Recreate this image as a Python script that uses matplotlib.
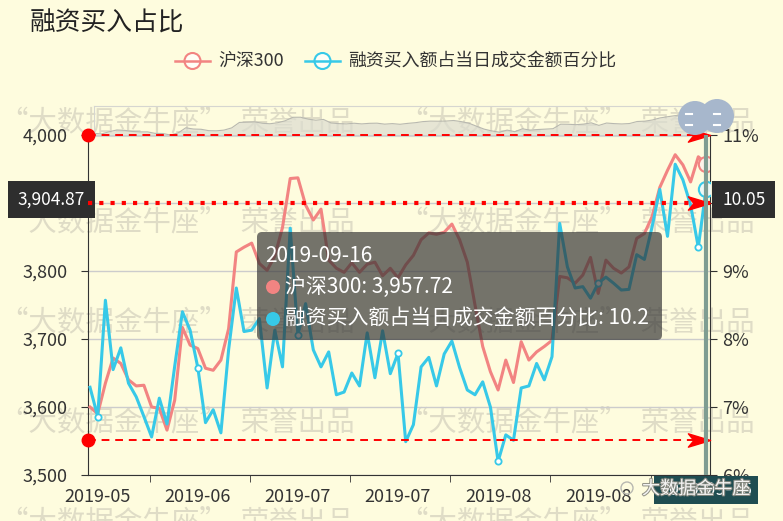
import numpy as np
import pandas as pd
import matplotlib
matplotlib.use('Agg')
import matplotlib.pyplot as plt
from matplotlib.patches import FancyBboxPatch, Circle
from matplotlib.path import Path
from matplotlib.ticker import FuncFormatter, FixedLocator
import matplotlib.patheffects as pe

plt.rcParams['font.family'] = ['Noto Sans CJK SC', 'DejaVu Sans']

# ---- data ----
dates = pd.bdate_range('2019-05-23', '2019-09-16', freq='C',
                       holidays=['2019-06-07', '2019-09-13'])

hs300 = [3600, 3590, 3635, 3672, 3664, 3640, 3631, 3632, 3600, 3598,
         3566, 3610, 3717, 3691, 3686, 3657, 3654, 3669, 3715, 3828,
         3835, 3841, 3811, 3801, 3822, 3864, 3936, 3937, 3897, 3875,
         3891, 3816, 3804, 3798, 3812, 3798, 3810, 3813, 3793, 3804,
         3790, 3809, 3823, 3846, 3856, 3854, 3857, 3869, 3846, 3813,
         3750, 3689, 3652, 3625, 3669, 3636, 3696, 3669, 3681, 3689,
         3698, 3792, 3790, 3782, 3794, 3820, 3767, 3816, 3804, 3797,
         3806, 3848, 3855, 3880, 3923, 3948, 3971, 3956, 3931, 3968,
         3957.72]

ratio = [7.29, 6.86, 8.57, 7.55, 7.87, 7.35, 7.15, 6.86, 6.56, 7.13,
         6.75, 7.60, 8.40, 8.13, 7.58, 6.77, 6.96, 6.62, 7.84, 8.75,
         8.11, 8.13, 8.30, 7.28, 8.13, 7.59, 9.63, 8.06, 8.52, 7.84,
         7.59, 7.81, 7.18, 7.22, 7.50, 7.31, 8.09, 7.43, 8.12, 7.49,
         7.79, 6.49, 6.74, 7.59, 7.73, 7.31, 7.78, 7.97, 7.58, 7.25,
         7.18, 7.37, 7.00, 6.20, 6.59, 6.51, 7.28, 7.31, 7.64, 7.40,
         7.74, 9.70, 9.06, 8.75, 8.77, 8.60, 8.82, 8.91, 8.82, 8.72,
         8.73, 9.24, 9.17, 9.65, 10.20, 9.51, 10.57, 10.34, 9.97, 9.35,
         10.2]

label_idx = [1, 14, 27, 40, 53, 66, 79]
mark_values = [4000, 3900, 3551.5]
pointer_left = 3904.87
pointer_right = 10.05

name1 = '沪深300'
name2 = '融资买入额占当日成交金额百分比'

# ---- style ----
W, H = 783, 521
BG = '#fefcde'
PINK = '#f28482'
CYAN = '#37c9e8'
WM = '#dfdcc6'

fig = plt.figure(figsize=(W / 100, H / 100), dpi=100)
fig.patch.set_facecolor(BG)

# watermark layer (pixel coords)
bg = fig.add_axes([0, 0, 1, 1], zorder=-2)
bg.set_xlim(0, W)
bg.set_ylim(H, 0)
bg.axis('off')
for yy in [122, 222, 322, 422, 522]:
    for xx in [0, 400]:
        bg.text(xx, yy, '“大数据金牛座”  荣誉出品', fontsize=20.5, color=WM,
                va='center', ha='left')

n = len(hs300)
x = np.arange(n)

# data zoom slider at top
sl = fig.add_axes([94 / W, 1 - 136 / H, 612 / W, 30 / H], zorder=-1)
sl.set_xlim(0, n - 1)
sl.set_ylim(min(hs300) - 20, max(hs300) + 200)
sl.fill_between(x, min(hs300) - 20, hs300, color='#dcdcd0', alpha=0.7, lw=0)
sl.plot(x, hs300, color='#b8b8b0', lw=0.8)
sl.patch.set_alpha(0)
sl.set_xticks([])
sl.set_yticks([])
for s in sl.spines.values():
    s.set_color('#d6d6d0')

# main axes
ax = fig.add_axes([88 / W, 1 - 475 / H, 622 / W, 340 / H])
ax.patch.set_alpha(0)
step = 7.7
ax.set_xlim(-2 / step, (n - 1) + 4 / step)
ax.set_ylim(3500, 4000)
ax.set_yticks(np.arange(3500, 4001, 100))
ax.yaxis.set_major_formatter(FuncFormatter(lambda v, p: f'{v:,.0f}'))
ax.grid(axis='y', color='#cccccc', lw=1)
ax.set_axisbelow(True)

ax.set_xticks(label_idx)
ax.set_xticklabels([dates[i].strftime('%Y-%m') for i in label_idx])
ax.xaxis.set_minor_locator(FixedLocator([i + 6.8 for i in label_idx[:-1]]))
ax.tick_params(axis='x', which='major', length=0, pad=9, labelsize=13, labelcolor='#333')
ax.tick_params(axis='x', which='minor', length=5, color='#333', direction='out')
ax.tick_params(axis='y', length=5, color='#333', pad=10, labelsize=13, labelcolor='#333')
for s in ['top', 'right']:
    ax.spines[s].set_visible(False)
ax.spines['left'].set_color('#333')
ax.spines['bottom'].set_color('#333')

ax.plot(x, hs300, color=PINK, lw=2.2, zorder=3)
ax.plot([n - 1], [hs300[-1]], 'o', ms=11, mfc='#fdf3ea', mec=PINK, mew=1.5, zorder=4)

ax2 = ax.twinx()
ax2.set_xlim(ax.get_xlim())
ax2.set_ylim(6, 11)
ax2.set_yticks(np.arange(6, 12, 1))
ax2.yaxis.set_major_formatter(FuncFormatter(lambda v, p: f'{v:.0f}%'))
ax2.tick_params(axis='y', length=5, color='#333', pad=4, labelsize=13, labelcolor='#333')
for s in ['top', 'left', 'bottom']:
    ax2.spines[s].set_visible(False)
ax2.spines['right'].set_color('#333')

ax2.plot(x, ratio, color=CYAN, lw=2.2, zorder=3)
ax2.plot(label_idx, [ratio[i] for i in label_idx], 'o', ms=4.5, mfc='white',
         mec=CYAN, mew=1.3, zorder=4)
ax2.plot([n - 1], [ratio[-1]], 'o', ms=11, mfc='#eef8f4', mec=CYAN, mew=1.5, zorder=4)

# mark lines (left axis values), drawn above both series
arrow = Path([(1, 0), (-1, 0.6), (-0.5, 0), (-1, -0.6), (1, 0)],
             [Path.MOVETO, Path.LINETO, Path.LINETO, Path.LINETO, Path.CLOSEPOLY])
x0, x1 = ax.get_xlim()
for v in mark_values:
    if v == 3900:
        ax2.plot([x0, x1], [v, v], transform=ax.transData, color='red', lw=3,
                 ls=(0, (1, 1.7)), dash_capstyle='butt', zorder=5, clip_on=False)
    else:
        ax2.plot([x0, x1], [v, v], transform=ax.transData, color='red', lw=1.4,
                 ls=(0, (4, 3)), zorder=5, clip_on=False)
        ax2.plot([x0], [v], 'o', transform=ax.transData, color='red', ms=9,
                 zorder=6, clip_on=False)
    ax2.plot([x1 - 11 / step], [v], marker=arrow, ms=16, color='red',
             transform=ax.transData, zorder=6, clip_on=False)

# vertical axis pointer
ax2.axvline(n - 1, color='#7f9d92', lw=3, zorder=6)

# axis pointer labels
box = dict(boxstyle='square,pad=0.55', fc='#2e2e2e', ec='none')
ax.text(-3 / 622, pointer_left, f'{pointer_left:,.2f}', transform=ax.get_yaxis_transform(),
        ha='right', va='center', fontsize=12.5, color='white', bbox=box, zorder=10, clip_on=False)
ax2.text(1 + 12 / 622, pointer_right, f'{pointer_right:.2f}', transform=ax2.get_yaxis_transform(),
         ha='left', va='center', fontsize=12.5, color='white', bbox=box, zorder=10, clip_on=False)
ax2.text(n - 1, -15 / 340, dates[-1].strftime('%Y-%m-%d'), transform=ax2.get_xaxis_transform(),
         ha='center', va='center', fontsize=13, color='white', zorder=10, clip_on=False,
         bbox=dict(boxstyle='square,pad=0.3', fc='#1f4d51', ec='none'))

# overlay in pixel coords
ov = fig.add_axes([0, 0, 1, 1], zorder=10)
ov.set_xlim(0, W)
ov.set_ylim(H, 0)
ov.axis('off')
ov.patch.set_alpha(0)

ov.text(30, 24, '融资买入占比', fontsize=18.5, color='#222', va='center', ha='left')

# legend
for lx, col, name in [(175, PINK, name1), (305, CYAN, name2)]:
    ov.plot([lx, lx + 35], [61, 61], color=col, lw=1.8)
    ov.add_patch(Circle((lx + 17.5, 61), 8, fc='#fffef6', ec=col, lw=1.5))
    ov.text(lx + 43, 61, name, fontsize=12.9, color='#333', va='center', ha='left')

# slider handle
for cx, cy in [(695, 118), (717, 116)]:
    ov.add_patch(Circle((cx, cy), 17, fc='#a7b7cc', ec='none'))
for hx, hy in [(689, 114), (689, 125), (717, 114), (717, 125)]:
    ov.plot([hx - 3, hx + 3], [hy, hy], color='white', lw=1.5)

# tooltip
ov.add_patch(FancyBboxPatch((257, 232), 405, 108, boxstyle='round,pad=0,rounding_size=5',
                            fc=(0.2, 0.2, 0.2, 0.68), ec='none'))
ov.text(265, 256, dates[-1].strftime('%Y-%m-%d'), fontsize=15, color='white', va='center')
rows = [(PINK, f'{name1}: {hs300[-1]:,.2f}'), (CYAN, f'{name2}: {ratio[-1]}')]
for k, (col, txt) in enumerate(rows):
    yy = 287 + k * 32
    ov.add_patch(Circle((273, yy), 7, fc=col, ec='none'))
    ov.text(285, yy, txt, fontsize=15, color='white', va='center')

# wechat mark
ov.text(642, 489, '大数据金牛座', fontsize=13, color='white', va='center', alpha=0.9,
        path_effects=[pe.withStroke(linewidth=1.5, foreground='#8a8a80')])
ov.add_patch(Circle((627, 488), 6, fc='none', ec='#b8b8b0', lw=1))

fig.savefig('out.png', dpi=100, facecolor=BG)
